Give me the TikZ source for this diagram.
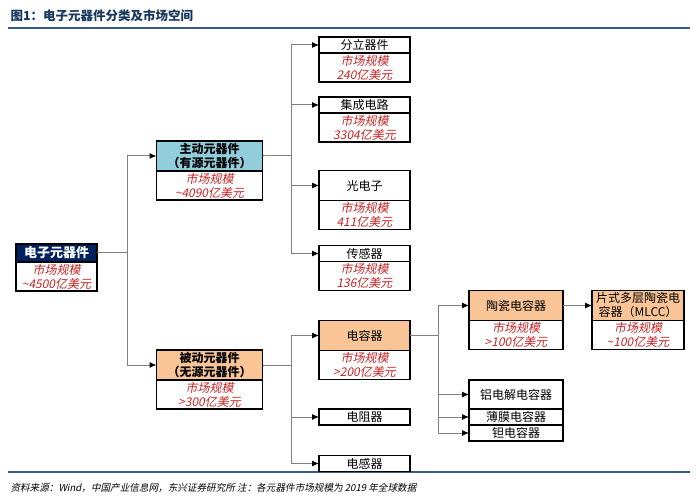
\documentclass[tikz,border=0pt]{standalone}
\usepackage{fontspec}
\setmainfont{Noto Sans CJK SC}[AutoFakeSlant=0.2]
\usepackage{xcolor}
\usepackage{tikz}
\usetikzlibrary{positioning}
\usetikzlibrary{shapes,calc,arrows.meta}
\definecolor{navy}{RGB}{0,32,96}
\definecolor{lblue}{RGB}{146,205,220}
\definecolor{lorange}{RGB}{250,197,150}
\definecolor{mred}{RGB}{200,35,35}
\definecolor{tblue}{RGB}{23,55,94}
\definecolor{rblue}{RGB}{55,90,135}
\definecolor{lgray}{RGB}{128,128,128}

\begin{document}
\begin{tikzpicture}[x=1pt,y=-1pt,
  hd/.style={draw,line width=1.1pt,inner sep=0pt,outer sep=0pt,minimum width=91pt,
    minimum height=16pt,align=center,font=\fontsize{12}{14}\selectfont},
  bd/.style={draw,line width=1.1pt,fill=white,inner sep=0pt,outer sep=0pt,minimum width=91pt,
    minimum height=29pt,align=center,text=mred,font=\itshape\fontsize{12}{14}\selectfont},
  top/.style={hd,font=\bfseries\fontsize{12}{14}\selectfont},
  ln/.style={draw=lgray,line width=1pt},
  arr/.style={ln,-{Latex[length=7pt,width=6pt,color=black]}}]
\useasboundingbox (0,0) rectangle (698,502);
\node[anchor=west,text=tblue,font=\bfseries\fontsize{12.5}{14}\selectfont] at (7,16) (title) {图1：电子元器件分类及市场空间};
\draw[rblue,line width=1.6pt] (8,28) -- (690,28);
\draw[rblue,line width=1.6pt] (8,472) -- (690,472);
\node[anchor=west,font=\itshape\fontsize{9.6}{11}\selectfont] at (7,488) (src) {资料来源：Wind，中国产业信息网，东兴证券研究所 注：各元器件市场规模为 2019 年全球数据};

\node[top,fill=navy,text=white,minimum width=81pt,minimum height=18pt,font=\bfseries\fontsize{13}{14}\selectfont] at (56.5,253) (root) {电子元器件};
\node[bd,minimum width=81pt,below=0pt of root] (root-b) {市场规模\\\textasciitilde4500亿美元};

\node[top,fill=lblue,minimum width=106pt,minimum height=30pt] at (209.5,156) (zy) {主动元器件\\（有源元器件）};
\node[bd,minimum width=106pt,below=0pt of zy] (zy-b) {市场规模\\\textasciitilde4090亿美元};
\node[top,fill=lorange,minimum width=106pt,minimum height=30pt] at (209.5,365) (by) {被动元器件\\（无源元器件）};
\node[bd,minimum width=106pt,below=0pt of by] (by-b) {市场规模\\>300亿美元};

\node[hd] at (364.5,45) (fl) {分立器件};
\node[bd,below=0pt of fl] (fl-b) {市场规模\\240亿美元};
\node[hd] at (364.5,105) (jc) {集成电路};
\node[bd,below=0pt of jc] (jc-b) {市场规模\\3304亿美元};
\node[hd,minimum height=30pt] at (364.5,185.5) (gd) {光电子};
\node[bd,below=0pt of gd] (gd-b) {市场规模\\411亿美元};
\node[hd] at (364.5,253.5) (cg) {传感器};
\node[bd,below=0pt of cg] (cg-b) {市场规模\\136亿美元};

\node[hd,fill=lorange,minimum height=30pt] at (364.5,335.5) (dr) {电容器};
\node[bd,below=0pt of dr] (dr-b) {市场规模\\>200亿美元};
\node[hd] at (364.5,417) (dz) {电阻器};
\node[hd] at (364.5,463.5) (dg) {电感器};

\node[hd,fill=lorange,minimum width=94pt,minimum height=30pt] at (516,305.5) (tc) {陶瓷电容器};
\node[bd,minimum width=94pt,below=0pt of tc] (tc-b) {市场规模\\>100亿美元};
\node[hd,fill=lorange,minimum width=92pt,minimum height=30pt] at (638,305.5) (mlcc) {片式多层陶瓷电\\容器（MLCC）};
\node[bd,minimum width=92pt,below=0pt of mlcc] (mlcc-b) {市场规模\\\textasciitilde100亿美元};
\node[hd,minimum width=94pt,minimum height=29pt] at (516,394.5) (lj) {铝电解电容器};
\node[hd,minimum width=94pt,below=0pt of lj] (bm) {薄膜电容器};
\node[hd,minimum width=94pt,below=0pt of bm] (ta) {钽电容器};

\coordinate (t1) at (127,253);
\coordinate (t2) at (291,156);
\coordinate (t3) at (291,365);
\coordinate (t4) at (438,335.5);
\draw[ln] (root.east) -- (t1);
\draw[arr] (t1) |- (zy.west);
\draw[arr] (t1) |- (by.west);
\draw[ln] (zy.east) -- (t2);
\draw[arr] (t2) |- (fl.west);
\draw[arr] (t2) |- (jc.west);
\draw[arr] (t2) |- (gd.west);
\draw[arr] (t2) |- (cg.west);
\draw[ln] (by.east) -- (t3);
\draw[arr] (t3) |- (dr.west);
\draw[arr] (t3) |- (dz.west);
\draw[arr] (t3) |- (dg.west);
\draw[ln] (dr.east) -- (t4);
\draw[arr] (t4) |- (tc.west);
\draw[arr] (t4) |- (lj.west);
\draw[arr] (t4) |- (bm.west);
\draw[arr] (t4) |- (ta.west);
\draw[arr] (tc.east) -- (mlcc.west);
\end{tikzpicture}
\end{document}
